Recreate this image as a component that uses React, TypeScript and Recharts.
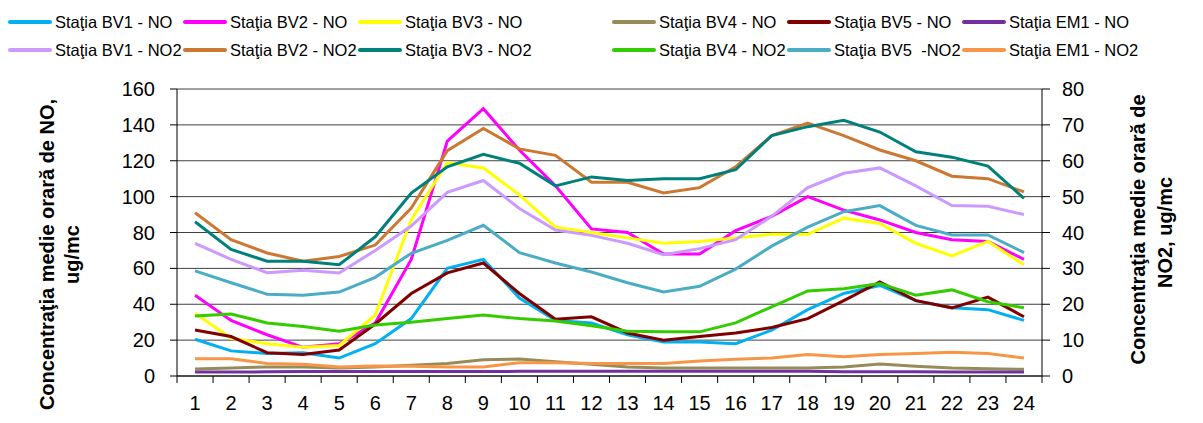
import { LineChart, Line, XAxis, YAxis, CartesianGrid, Label } from "recharts";

const hours = [1, 2, 3, 4, 5, 6, 7, 8, 9, 10, 11, 12, 13, 14, 15, 16, 17, 18, 19, 20, 21, 22, 23, 24];

// NO, ug/mc (left axis)
const bv1No = [20.5, 14, 12.5, 13, 10, 18, 32, 60, 65, 43.5, 31, 29.5, 23, 19, 19, 18, 25.6, 37, 46, 50.5, 42, 38, 37, 31];
const bv2No = [45, 31, 23, 16, 18, 29.5, 65, 131, 149, 126, 106, 82, 80, 68, 68, 81, 89, 100, 92.5, 87, 80, 76, 75, 65];
const bv3No = [35, 21, 18, 16, 17, 34, 87, 119, 116, 101, 83, 80, 77, 74, 75, 77, 79, 79, 88, 85, 74, 67, 75, 62];
const bv4No = [3.9, 4.5, 5, 5, 4.5, 5, 6, 7, 9, 9.5, 8, 6.5, 5, 4.5, 4.5, 4.5, 4.5, 4.5, 5, 6.7, 5.5, 4.5, 4, 3.7];
const bv5No = [25.6, 22, 13, 12, 14.5, 29, 46, 57.5, 63, 46, 31.6, 33, 24, 20, 22, 24, 27, 32, 42, 52.5, 42, 38, 44, 33];
const em1No = [2.2, 2.2, 2.3, 2.5, 2.5, 2.5, 2.5, 2.5, 2.5, 2.6, 2.6, 2.6, 2.7, 2.7, 2.7, 2.7, 2.6, 2.6, 2.4, 2.3, 2.3, 2.2, 2.2, 2.2];

// NO2, ug/mc (right axis)
const bv1No2 = [37, 32.5, 28.8, 29.5, 28.7, 35, 41.8, 51.2, 54.5, 46.7, 40.7, 39.2, 37, 33.8, 35.5, 38, 44.5, 52.5, 56.5, 58, 53, 47.5, 47.3, 45];
const bv2No2 = [45.5, 38, 34.3, 32, 33.3, 36.5, 46.8, 62.8, 69, 63.3, 61.5, 54, 54, 51, 52.5, 58.3, 67, 70.5, 67, 63, 60, 55.7, 55, 51.3];
const bv3No2 = [43, 35.3, 32, 32, 31, 38.8, 51, 58.3, 61.8, 59.3, 53, 55.5, 54.5, 55, 55, 57.5, 67, 69.5, 71.3, 68, 62.5, 61, 58.5, 49.5];
const bv4No2 = [16.7, 17.3, 14.8, 13.8, 12.5, 14.2, 15, 16, 17, 16, 15.3, 14, 12.5, 12.3, 12.3, 14.8, 19.3, 23.7, 24.3, 25.8, 22.5, 24, 20.7, 19];
const bv5No2 = [29.3, 26, 22.8, 22.5, 23.4, 27.5, 34.2, 37.8, 42, 34.4, 31.5, 29, 26, 23.4, 25, 29.8, 36.2, 41.5, 45.8, 47.5, 42, 39.3, 39.3, 34.4];
const em1No2 = [4.8, 4.8, 3.5, 3.3, 2.5, 2.8, 2.7, 2.5, 2.5, 3.7, 3.7, 3.5, 3.5, 3.5, 4.2, 4.7, 5, 6, 5.4, 6, 6.3, 6.6, 6.3, 5];

const noTicks = [0, 20, 40, 60, 80, 100, 120, 140, 160];
const no2Ticks = [0, 10, 20, 30, 40, 50, 60, 70, 80];

const series = [
  { key: "bv1No", name: "Staţia BV1 - NO", color: "#00B0F0", axis: "no", values: bv1No },
  { key: "bv2No", name: "Staţia BV2 - NO", color: "#FF00FF", axis: "no", values: bv2No },
  { key: "bv3No", name: "Staţia BV3 - NO", color: "#FFFF00", axis: "no", values: bv3No },
  { key: "bv4No", name: "Staţia BV4 - NO", color: "#968C5A", axis: "no", values: bv4No },
  { key: "bv5No", name: "Staţia BV5 - NO", color: "#800000", axis: "no", values: bv5No },
  { key: "em1No", name: "Staţia EM1 - NO", color: "#7030A0", axis: "no", values: em1No },
  { key: "bv1No2", name: "Staţia BV1 - NO2", color: "#CC99FF", axis: "no2", values: bv1No2 },
  { key: "bv2No2", name: "Staţia BV2 - NO2", color: "#CC7832", axis: "no2", values: bv2No2 },
  { key: "bv3No2", name: "Staţia BV3 - NO2", color: "#00807A", axis: "no2", values: bv3No2 },
  { key: "bv4No2", name: "Staţia BV4 - NO2", color: "#33CC00", axis: "no2", values: bv4No2 },
  { key: "bv5No2", name: "Staţia BV5  -NO2", color: "#4BACC6", axis: "no2", values: bv5No2 },
  { key: "em1No2", name: "Staţia EM1 - NO2", color: "#F79646", axis: "no2", values: em1No2 },
];

const rows = hours.map((h, i) => {
  const row: Record<string, number> = { hour: h };
  series.forEach((s) => (row[s.key] = s.values[i]));
  return row;
});

// tick marks sit between the hours, labels on the hours
const xTicks = [...hours.flatMap((h) => [h - 0.5, h]), hours[hours.length - 1] + 0.5];

const FONT = '"Liberation Sans", Arial, sans-serif';
const legendCols = [8, 183, 358, 612, 787, 962];

// eslint-disable-next-line @typescript-eslint/no-explicit-any
const HourTick = ({ x, y, payload }: any) => {
  const v = payload.value;
  if (Number.isInteger(v)) {
    return (
      <text x={x} y={y} dy="0.71em" textAnchor="middle" fontSize={20} fill="#000" fontFamily={FONT}>
        {v}
      </text>
    );
  }
  return <line x1={x} x2={x} y1={y - 20} y2={y - 13} stroke="#000" />;
};

// eslint-disable-next-line @typescript-eslint/no-explicit-any
const LeftTitle = ({ viewBox }: any) => {
  const cy = viewBox.y + viewBox.height / 2 + 22;
  const props = { textAnchor: "middle" as const, dominantBaseline: "central" as const, fontSize: 20, fontWeight: 700, fill: "#000", fontFamily: FONT };
  return (
    <g>
      <text transform={`translate(${viewBox.x + 47}, ${cy}) rotate(-90)`} {...props}>
        Concentraţia medie orară de NO,
      </text>
      <text transform={`translate(${viewBox.x + 72}, ${cy}) rotate(-90)`} {...props}>
        ug/mc
      </text>
    </g>
  );
};

// eslint-disable-next-line @typescript-eslint/no-explicit-any
const RightTitle = ({ viewBox }: any) => {
  const cy = viewBox.y + viewBox.height / 2;
  const props = { textAnchor: "middle" as const, dominantBaseline: "central" as const, fontSize: 20, fontWeight: 700, fill: "#000", fontFamily: FONT };
  return (
    <g>
      <text transform={`translate(${viewBox.x + 96}, ${cy - 3}) rotate(-90)`} {...props}>
        Concentraţia medie orară de
      </text>
      <text transform={`translate(${viewBox.x + 123}, ${cy}) rotate(-90)`} {...props}>
        NO2, ug/mc
      </text>
    </g>
  );
};

export default function App() {
  return (
    <div style={{ position: "absolute", left: 0, top: 0, width: 1203, height: 423, background: "#fff", fontFamily: FONT }}>
      <LineChart width={1203} height={423} data={rows} margin={{ top: 89, right: 0, bottom: 0, left: 0 }}>
        <CartesianGrid yAxisId="no" vertical={false} stroke="#404040" />
        <XAxis
          dataKey="hour"
          type="number"
          domain={[0.5, 24.5]}
          ticks={xTicks}
          interval={0}
          tick={HourTick}
          tickLine={false}
          tickSize={7}
          tickMargin={13}
          height={47}
          axisLine={{ stroke: "#000" }}
        />
        <YAxis
          yAxisId="no"
          width={177}
          domain={[0, 160]}
          ticks={noTicks}
          interval={0}
          tickSize={7}
          tickMargin={15}
          tick={{ fontSize: 20, fill: "#000", fontFamily: FONT }}
          axisLine={{ stroke: "#000" }}
          tickLine={{ stroke: "#000" }}
        >
          <Label content={LeftTitle} />
        </YAxis>
        <YAxis
          yAxisId="no2"
          orientation="right"
          width={161}
          domain={[0, 80]}
          ticks={no2Ticks}
          interval={0}
          tickSize={8}
          tickMargin={12}
          tick={{ fontSize: 20, fill: "#000", fontFamily: FONT }}
          axisLine={{ stroke: "#000" }}
          tickLine={{ stroke: "#000" }}
        >
          <Label content={RightTitle} />
        </YAxis>
        {series.map((s) => (
          <Line
            key={s.key}
            yAxisId={s.axis}
            type="linear"
            dataKey={s.key}
            name={s.name}
            stroke={s.color}
            strokeWidth={3}
            dot={false}
            activeDot={false}
            isAnimationActive={false}
          />
        ))}
      </LineChart>
      {series.map((s, i) => (
        <div
          key={s.key}
          style={{
            position: "absolute",
            left: legendCols[i % 6],
            top: i < 6 ? 12 : 40,
            height: 20,
            display: "flex",
            alignItems: "center",
            fontSize: 16.5,
            whiteSpace: "pre",
            color: "#000",
          }}
        >
          <span style={{ display: "inline-block", width: 44, height: 4, borderRadius: 2, background: s.color, marginRight: 3 }} />
          {s.name}
        </div>
      ))}
    </div>
  );
}
